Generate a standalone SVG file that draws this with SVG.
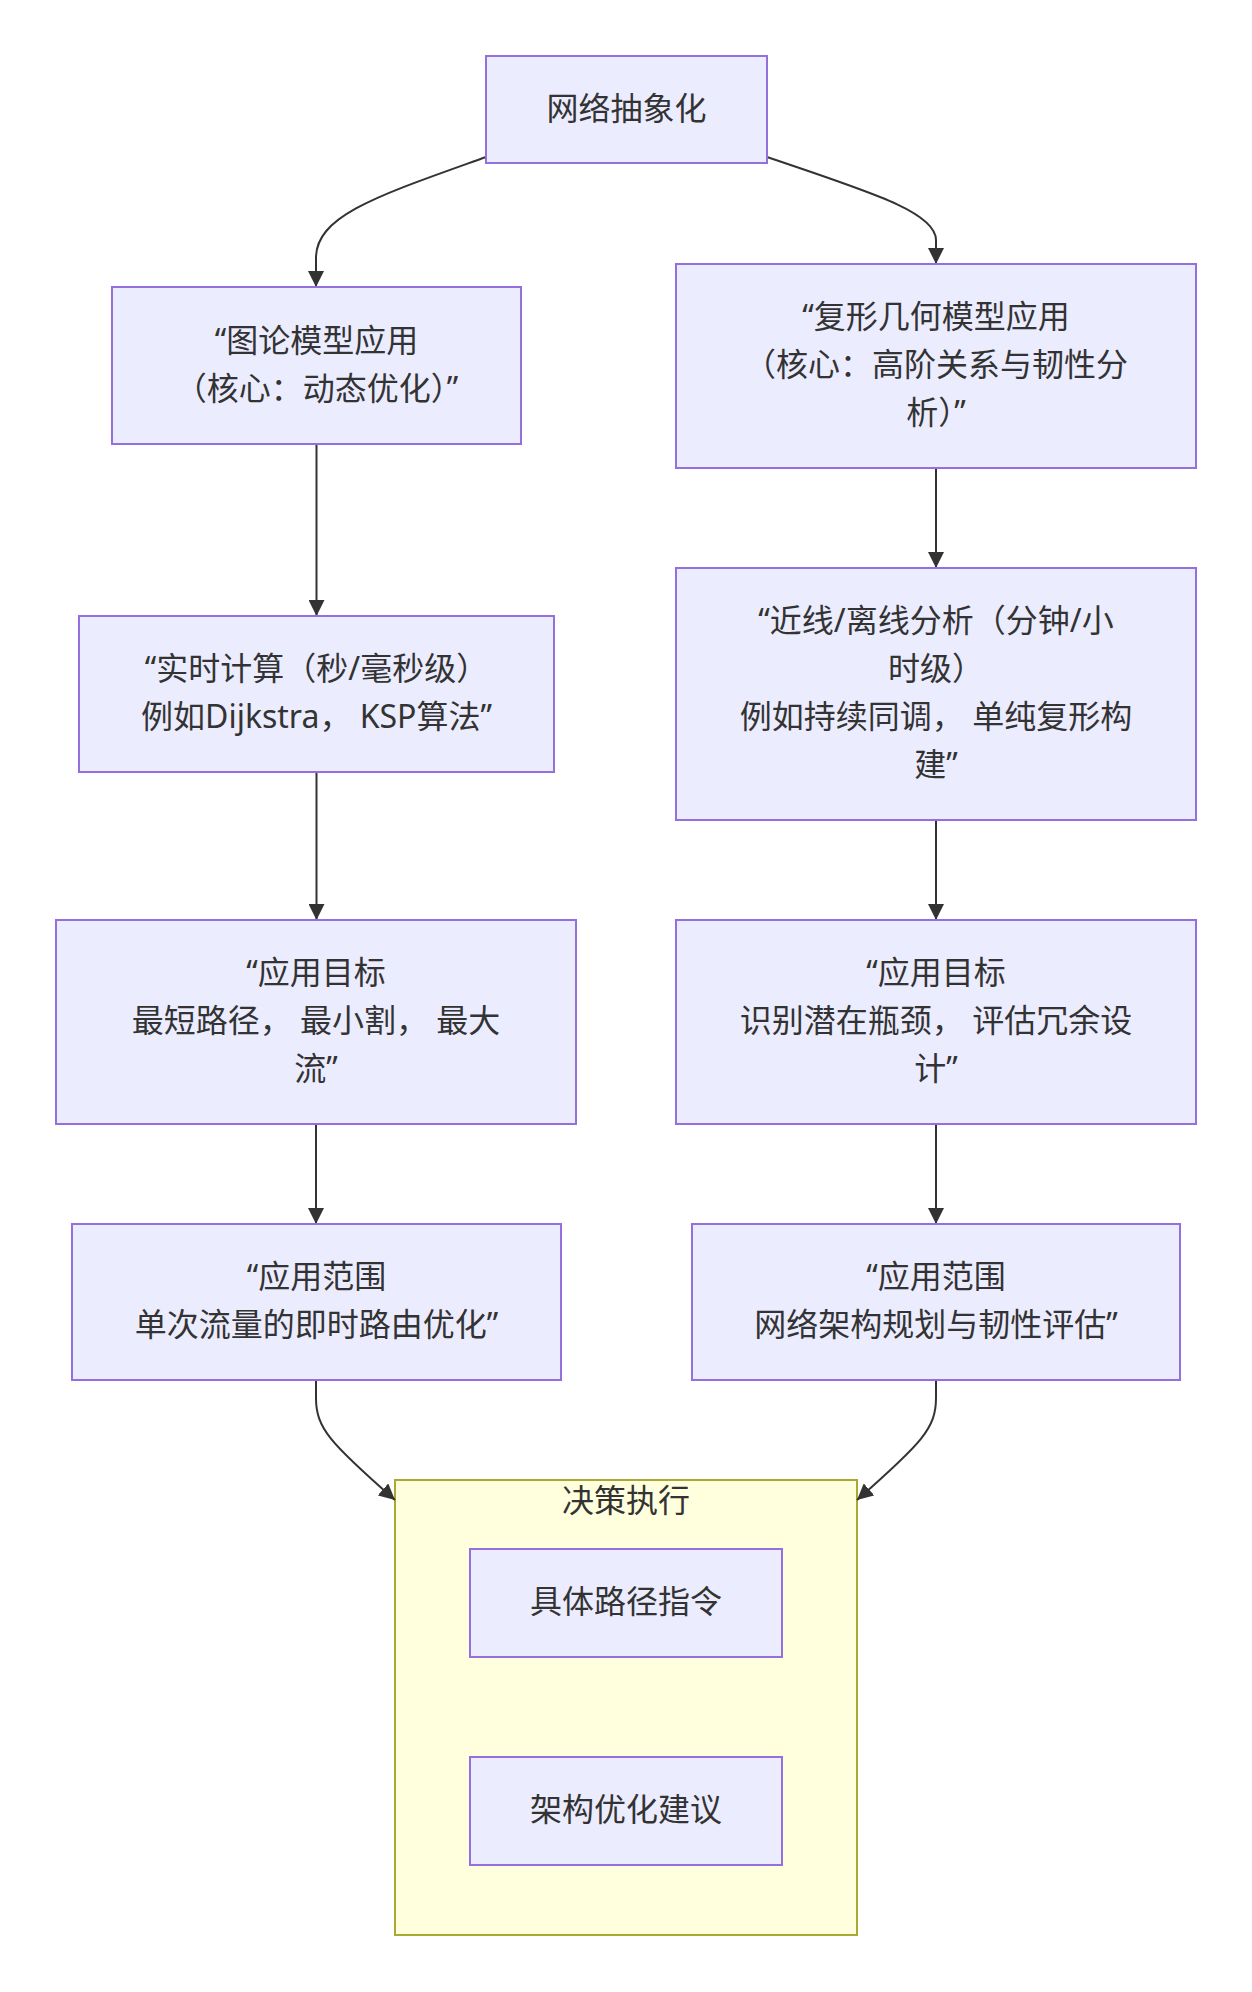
<svg xmlns="http://www.w3.org/2000/svg" width="1252" height="1992" viewBox="0 0 1252 1992">
<style>
.bg{fill:#ffffff}
.node rect{fill:#ECECFF;stroke:#9370DB;stroke-width:2}
.cluster rect{fill:#FFFFDE;stroke:#AAAA33;stroke-width:2}
text{font-family:"Noto Sans","Noto Sans CJK SC",sans-serif;font-size:32px;fill:#333333;text-anchor:middle}
.edges path{fill:none;stroke:#333333;stroke-width:2}
</style>
<defs>
<marker id="arrow" markerUnits="userSpaceOnUse" viewBox="0 0 16 16" refX="16" refY="8" markerWidth="16" markerHeight="16" orient="auto">
<path d="M0,0 L16,8 L0,16 z" fill="#333333"/>
</marker>
</defs>
<rect class="bg" x="0" y="0" width="1252" height="1992"/>

<g id="cluster-decision" class="cluster">
<rect x="395" y="1480" width="462" height="455"/>
<text x="626" y="1512">决策执行</text>
</g>

<g class="edges" id="edges">
<path d="M486,157 C380,195 316,215 316,258 L316,287" marker-end="url(#arrow)"/>
<path d="M767,157 C870,192 936,212 936,240 L936,264" marker-end="url(#arrow)"/>
<path d="M316.5,444 L316.5,616" marker-end="url(#arrow)"/>
<path d="M936,468 L936,568" marker-end="url(#arrow)"/>
<path d="M316.5,772 L316.5,920" marker-end="url(#arrow)"/>
<path d="M936,820 L936,920" marker-end="url(#arrow)"/>
<path d="M316,1124 L316,1224" marker-end="url(#arrow)"/>
<path d="M936,1124 L936,1224" marker-end="url(#arrow)"/>
<path d="M316,1380 L316,1398 C316,1428 330,1443 395,1500" marker-end="url(#arrow)"/>
<path d="M936,1380 L936,1398 C936,1428 922,1443 857,1500" marker-end="url(#arrow)"/>
</g>

<g id="node-top" class="node">
<rect x="486" y="56" width="281" height="107"/>
<text x="626.5" y="119.5">网络抽象化</text>
</g>

<g id="node-graph" class="node">
<rect x="112" y="287" width="409" height="157"/>
<text x="316.5" y="351.5">“图论模型应用</text>
<text x="316.5" y="399.5">（核心：动态优化）”</text>
</g>

<g id="node-complex" class="node">
<rect x="676" y="264" width="520" height="204"/>
<text x="936" y="328">“复形几何模型应用</text>
<text x="936" y="376">（核心：高阶关系与韧性分</text>
<text x="936" y="424">析）”</text>
</g>

<g id="node-realtime" class="node">
<rect x="79" y="616" width="475" height="156"/>
<text x="316.5" y="680">“实时计算（秒/毫秒级）</text>
<text x="316.5" y="728">例如Dijkstra， KSP算法”</text>
</g>

<g id="node-offline" class="node">
<rect x="676" y="568" width="520" height="252"/>
<text x="936" y="632">“近线/离线分析（分钟/小</text>
<text x="936" y="680">时级）</text>
<text x="936" y="728">例如持续同调， 单纯复形构</text>
<text x="936" y="776">建”</text>
</g>

<g id="node-goal-left" class="node">
<rect x="56" y="920" width="520" height="204"/>
<text x="316" y="984">“应用目标</text>
<text x="316" y="1032">最短路径， 最小割， 最大</text>
<text x="316" y="1080">流”</text>
</g>

<g id="node-goal-right" class="node">
<rect x="676" y="920" width="520" height="204"/>
<text x="936" y="984">“应用目标</text>
<text x="936" y="1032">识别潜在瓶颈， 评估冗余设</text>
<text x="936" y="1080">计”</text>
</g>

<g id="node-scope-left" class="node">
<rect x="72" y="1224" width="489" height="156"/>
<text x="316.5" y="1288">“应用范围</text>
<text x="316.5" y="1336">单次流量的即时路由优化”</text>
</g>

<g id="node-scope-right" class="node">
<rect x="692" y="1224" width="488" height="156"/>
<text x="936" y="1288">“应用范围</text>
<text x="936" y="1336">网络架构规划与韧性评估”</text>
</g>

<g id="node-path" class="node">
<rect x="470" y="1549" width="312" height="108"/>
<text x="626" y="1613">具体路径指令</text>
</g>

<g id="node-arch" class="node">
<rect x="470" y="1757" width="312" height="108"/>
<text x="626" y="1821">架构优化建议</text>
</g>
</svg>
